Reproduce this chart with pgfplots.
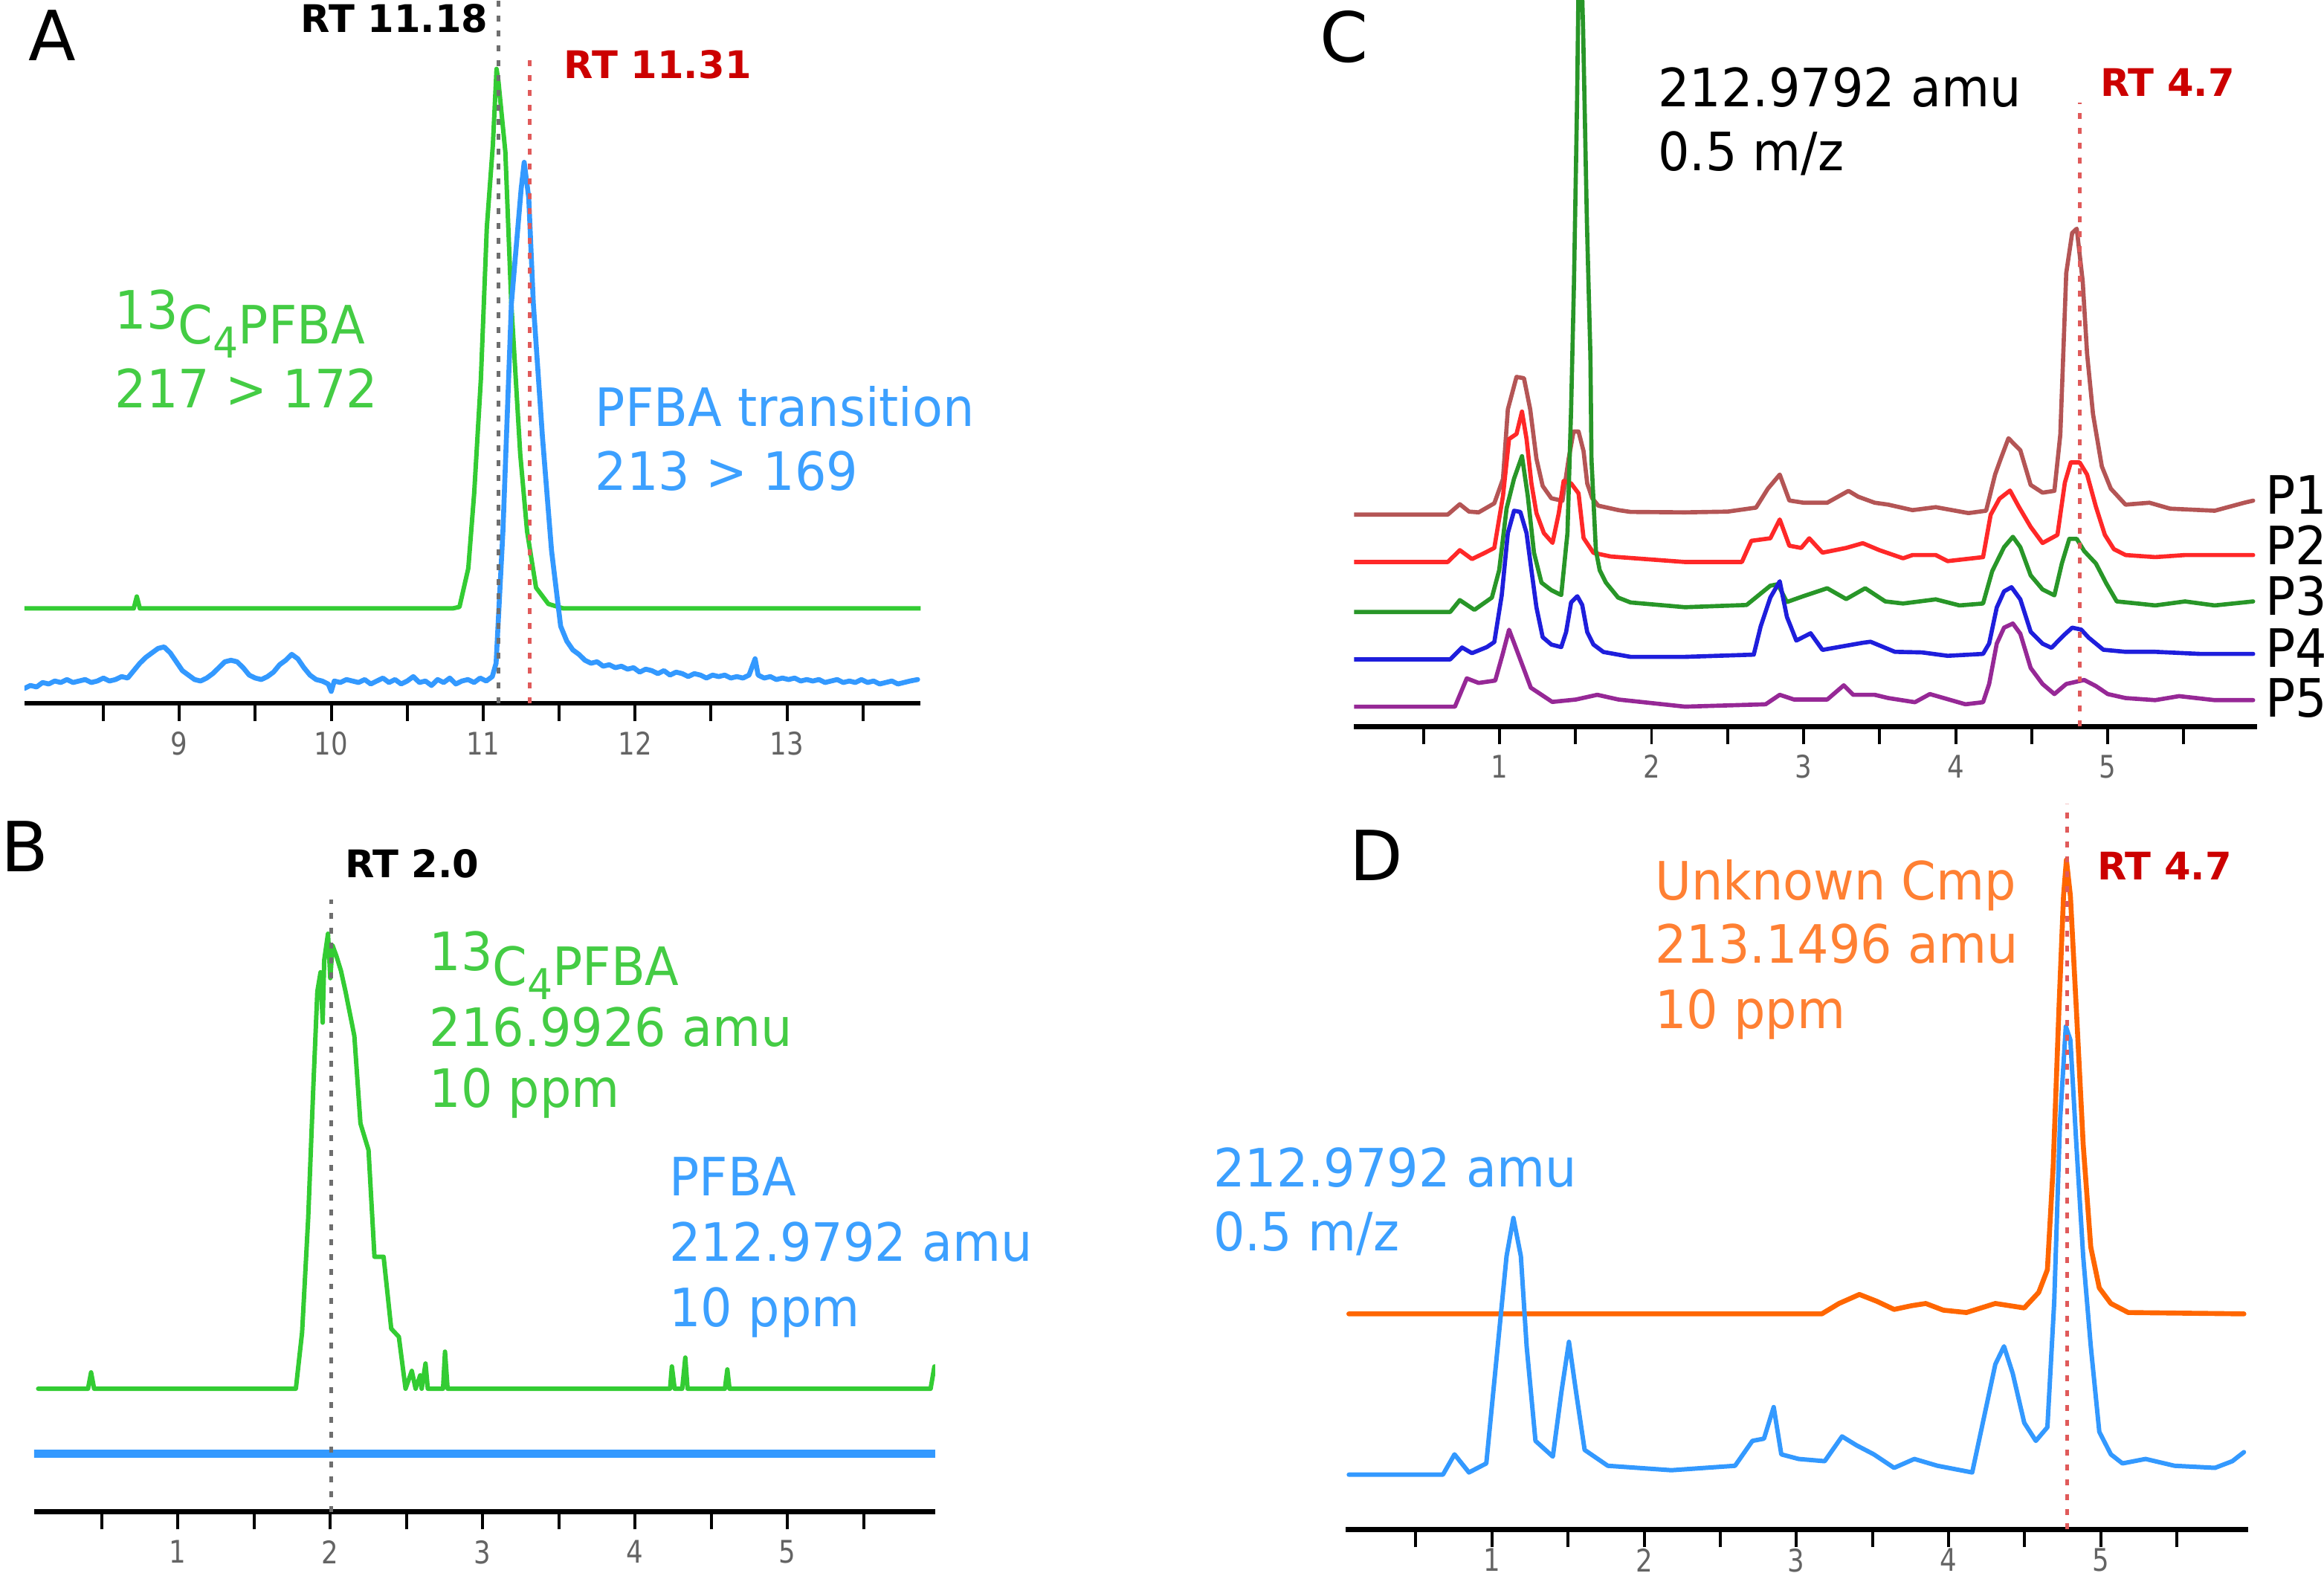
\documentclass[border=0pt]{standalone}
\usepackage{fontspec}
\setmainfont{DejaVu Sans}[FakeStretch=0.94]
\newfontfamily\plainfont{DejaVu Sans}
\newfontfamily\tickfontfam{DejaVu Sans}[FakeStretch=0.85]
\usepackage{pgfplots}
\pgfplotsset{compat=1.18}

\definecolor{agreen}{RGB}{51,204,51}
\definecolor{ablue}{RGB}{51,153,255}
\definecolor{tgreen}{RGB}{68,204,68}
\definecolor{tblue}{RGB}{60,160,255}
\definecolor{dorange}{RGB}{255,102,0}
\definecolor{torange}{RGB}{255,128,51}
\definecolor{rtred}{RGB}{204,0,0}
\definecolor{dotred}{RGB}{224,90,90}
\definecolor{dotgray}{RGB}{110,110,110}
\definecolor{cPa}{RGB}{180,85,85}
\definecolor{cPb}{RGB}{255,40,40}
\definecolor{cPc}{RGB}{40,150,40}
\definecolor{cPd}{RGB}{30,30,220}
\definecolor{cPe}{RGB}{150,40,150}
\definecolor{tickgray}{RGB}{100,100,100}

\newcommand{\annot}{\fontsize{10.7}{12}\selectfont}
\newcommand{\rtf}{\plainfont\bfseries\fontsize{7.7}{9}\selectfont}
\newcommand{\letf}{\plainfont\fontsize{14}{16}\selectfont}
\newcommand{\tickf}{\tickfontfam\fontsize{6.3}{7}\selectfont}
\newcommand{\isoC}{\raisebox{3pt}{13}C\raisebox{-2.9pt}{\fontsize{8.6}{9}\selectfont 4}PFBA}

\pgfplotsset{
 chrom/.style={
  scale only axis, enlargelimits=false,
  axis x line*=bottom, axis y line=none,
  y=0.3pt, ymin=0,
  xtick align=outside,
  major tick length=3.6pt, minor tick length=3.6pt,
  every major tick/.append style={black, line width=0.6pt},
  every minor tick/.append style={black, line width=0.6pt},
  x axis line style={black, line width=1pt, -},
  xticklabel style={font=\tickf, text=tickgray, inner sep=0pt, anchor=north, yshift=-2pt},
  every axis plot/.append style={no markers, line join=round, line cap=round},
 },
 ticksB/.style={xtick={1,2,3,4,5}, xticklabels={1,2,3,4,5}, minor xtick={0.5,1.5,2.5,3.5,4.5,5.5}},
}
\tikzset{dotg/.style={dotgray, line width=0.7pt, dash pattern=on 1.2pt off 1.8pt},
         dotr/.style={dotred, line width=0.7pt, dash pattern=on 1.2pt off 1.8pt}}

\begin{document}
\begin{tikzpicture}
\useasboundingbox (0,0) rectangle (470.4pt,-318.9pt);

% ---------------- Panel A ----------------
\begin{axis}[chrom, at={(4.935pt,-142.35pt)}, anchor=south west,
  x=30.75pt, xmin=7.98, xmax=13.88, ymax=474.5,
  xtick={9,10,11,12,13}, xticklabels={9,10,11,12,13},
  minor xtick={8.5,9.5,10.5,11.5,12.5,13.5}]
\addplot[agreen, line width=0.9pt] coordinates {
(7.98,64) (8.70,64) (8.72,72) (8.74,64) (10.80,64) (10.844,65) (10.902,91) (10.941,142)
(10.985,219) (11.024,321) (11.064,377) (11.088,428) (11.10,420) (11.146,372) (11.185,270)
(11.244,168) (11.289,116) (11.348,78) (11.429,67) (11.527,64) (13.88,64)};
\addplot[ablue, line width=1.0pt] coordinates {
(7.98,10) (8.02,12) (8.06,11) (8.10,14) (8.14,13) (8.18,15) (8.22,14) (8.26,16) (8.30,14)
(8.34,15) (8.38,16) (8.42,14) (8.46,15) (8.50,17) (8.54,15) (8.58,16) (8.62,18) (8.66,17)
(8.70,22) (8.74,27) (8.78,31) (8.82,34) (8.86,37) (8.90,38) (8.94,34) (8.98,28) (9.02,22)
(9.06,19) (9.10,16) (9.14,15) (9.18,17) (9.22,20) (9.26,24) (9.30,28) (9.34,29) (9.38,28)
(9.42,24) (9.46,19) (9.50,17) (9.54,16) (9.58,18) (9.62,21) (9.66,26) (9.70,29) (9.74,33)
(9.78,30) (9.82,24) (9.86,19) (9.90,16) (9.94,15) (9.98,13) (10.00,8) (10.02,15) (10.06,14)
(10.10,16) (10.14,15) (10.18,14) (10.22,16) (10.26,13) (10.30,15) (10.34,17) (10.38,14)
(10.42,16) (10.46,13) (10.50,15) (10.54,18) (10.58,14) (10.62,15) (10.66,12) (10.70,16)
(10.74,14) (10.78,17) (10.82,13) (10.86,15) (10.90,16) (10.94,14) (10.98,17) (11.02,15)
(11.06,18) (11.085,27) (11.13,116) (11.186,270) (11.25,347) (11.27,365) (11.30,341)
(11.33,270) (11.39,180) (11.45,103) (11.51,52) (11.55,42) (11.59,36) (11.63,33) (11.67,29)
(11.71,27) (11.75,28) (11.79,25) (11.83,26) (11.87,24) (11.91,25) (11.95,23) (11.99,24)
(12.03,21) (12.07,23) (12.11,22) (12.15,20) (12.19,22) (12.23,19) (12.27,21) (12.31,20)
(12.35,18) (12.39,20) (12.43,19) (12.47,17) (12.51,19) (12.55,18) (12.59,19) (12.63,17)
(12.67,18) (12.71,17) (12.75,19) (12.79,30) (12.81,19) (12.85,17) (12.89,18) (12.93,16)
(12.97,17) (13.01,16) (13.05,17) (13.09,15) (13.13,16) (13.17,15) (13.21,16) (13.25,14)
(13.29,15) (13.33,16) (13.37,14) (13.41,15) (13.45,14) (13.49,16) (13.53,14) (13.57,15)
(13.61,13) (13.65,14) (13.69,15) (13.73,13) (13.77,14) (13.81,15) (13.86,16)};
\draw[dotg] (11.10,0) -- (11.10,474.5);
\draw[dotr] (11.305,0) -- (11.305,439);
\end{axis}

% ---------------- Panel B ----------------
\begin{axis}[chrom, ticksB, at={(6.9pt,-306pt)}, anchor=south west,
  x=30.84pt, xmin=0.056, xmax=5.97, ymax=480]
\addplot[agreen, line width=0.9pt] coordinates {
(0.083,83) (0.41,83) (0.43,94) (0.45,83) (1.774,83) (1.815,121) (1.855,198) (1.888,285)
(1.915,351) (1.936,364) (1.95,330) (1.96,372) (1.985,390) (2.0,360) (2.015,382) (2.04,375)
(2.07,365) (2.10,351) (2.158,321) (2.198,262) (2.251,244) (2.29,172) (2.35,172) (2.40,123.5)
(2.45,118) (2.494,83) (2.535,95) (2.56,83) (2.59,92) (2.60,83) (2.625,100) (2.64,83)
(2.74,83) (2.753,108) (2.77,83) (4.23,83) (4.242,98) (4.26,83) (4.31,83) (4.33,104)
(4.345,83) (4.59,83) (4.606,96) (4.62,83) (5.94,83) (5.965,98)};
\addplot[ablue, line width=1.7pt] coordinates {(0.05,39) (5.97,39)};
\draw[dotg] (2.005,0) -- (2.005,413);
\end{axis}

% ---------------- Panel C ----------------
\begin{axis}[chrom, ticksB, at={(274.08pt,-147.06pt)}, anchor=south west,
  x=30.78pt, xmin=0.044, xmax=5.98, ymax=490]
\addplot[cPa, line width=0.85pt] coordinates {
(0.037,143) (0.66,143) (0.739,150) (0.80,145) (0.863,144.5) (0.966,150.6) (1.023,167)
(1.055,214) (1.112,235.9) (1.161,235) (1.202,214) (1.243,180.7) (1.284,162.3) (1.341,154)
(1.414,152.3) (1.455,180.7) (1.487,199) (1.52,199) (1.553,185.7) (1.577,164) (1.61,154)
(1.65,149) (1.783,146) (1.862,144.8) (2.22,144.5) (2.5,145) (2.687,147.7) (2.765,160.5)
(2.843,170) (2.906,152.5) (3.0,151) (3.155,151) (3.295,159) (3.36,155) (3.467,151)
(3.557,149.7) (3.716,146) (3.869,148) (4.084,144) (4.2,145.6) (4.259,170) (4.293,179.7)
(4.347,194.5) (4.425,186.4) (4.493,163) (4.571,157.8) (4.649,159) (4.688,197) (4.727,306)
(4.766,333) (4.796,335.9) (4.835,300.6) (4.864,251.6) (4.903,210.8) (4.961,175.5)
(5.02,160.5) (5.117,149.7) (5.274,151) (5.41,147) (5.703,145.6) (5.898,151) (5.956,152.4)};
\addplot[cPb, line width=0.85pt] coordinates {
(0.037,111) (0.66,111) (0.739,119) (0.819,113) (0.9,117) (0.966,120.5) (1.023,155.6)
(1.063,194) (1.112,197.4) (1.148,212.5) (1.178,194) (1.21,164) (1.243,144) (1.292,130.5)
(1.349,123.9) (1.39,144) (1.422,165.7) (1.471,164) (1.52,157.3) (1.553,127.2) (1.618,117.2)
(1.732,114.7) (2.22,111) (2.594,111) (2.656,125.3) (2.781,127) (2.843,139.7) (2.906,122)
(2.984,120.5) (3.037,127) (3.124,117.3) (3.28,120.5) (3.389,123.7) (3.498,119) (3.654,113.5)
(3.716,115.7) (3.869,115.7) (3.947,111.6) (4.18,114.3) (4.23,142.9) (4.288,153.7)
(4.357,159.2) (4.415,148.3) (4.493,134.7) (4.571,123.8) (4.669,129.3) (4.718,164.6)
(4.757,178.2) (4.815,178.2) (4.864,170) (4.922,148.3) (4.981,129.3) (5.04,119.7)
(5.117,115.7) (5.312,114.3) (5.508,115.7) (5.956,115.7)};
\addplot[cPc, line width=0.85pt] coordinates {
(0.037,77.3) (0.676,77.3) (0.739,85.3) (0.835,78.7) (0.95,87) (0.998,105.5) (1.047,147.3)
(1.096,167.3) (1.148,182.4) (1.186,155.6) (1.227,117.2) (1.276,97.1) (1.341,92) (1.406,88.7)
(1.447,130.5) (1.471,214) (1.49,300) (1.51,420) (1.527,560) (1.55,470) (1.575,340)
(1.598,250) (1.605,180) (1.634,118.8) (1.659,105.5) (1.7,97.1) (1.78,87) (1.862,83.7)
(2.22,80.5) (2.625,82) (2.781,95) (2.83,96) (2.89,84) (3.0,88) (3.155,93.3) (3.28,86)
(3.405,93.3) (3.537,84.4) (3.654,83) (3.869,85.8) (4.025,81.7) (4.18,83) (4.24,104.8)
(4.318,121) (4.376,128) (4.425,121) (4.493,102) (4.571,92.5) (4.649,88.5) (4.698,110)
(4.747,126.6) (4.796,126.6) (4.845,118.4) (4.922,110) (4.99,96.6) (5.059,84.4) (5.195,83)
(5.312,81.7) (5.508,84.4) (5.703,81.7) (5.956,84.4)};
\addplot[cPd, line width=0.85pt] coordinates {
(0.037,45.3) (0.676,45.3) (0.754,53.3) (0.819,49.5) (0.917,53.6) (0.966,57) (1.015,88.7)
(1.055,130.5) (1.096,145.6) (1.137,144.8) (1.178,130.5) (1.21,105.5) (1.243,80.4)
(1.284,60.3) (1.341,55.3) (1.406,53.6) (1.438,63.7) (1.471,83.7) (1.512,87.9) (1.544,82)
(1.577,63.7) (1.618,55.3) (1.683,50.3) (1.862,47) (2.22,47) (2.672,48.5) (2.718,67.7)
(2.781,87) (2.843,98) (2.89,74) (2.952,58) (3.046,62.9) (3.124,51.7) (3.389,56.5)
(3.44,57.2) (3.6,50.4) (3.778,50) (3.947,47.7) (4.18,49) (4.22,56) (4.27,80.3) (4.318,91.2)
(4.367,94) (4.425,85.8) (4.493,64) (4.571,55.9) (4.63,53.1) (4.708,61.3) (4.766,66.7)
(4.825,65.4) (4.874,60) (4.971,51.8) (5.117,50.4) (5.312,50.4) (5.605,49) (5.956,49)};
\addplot[cPe, line width=0.85pt] coordinates {
(0.037,13.4) (0.707,13.4) (0.785,32.5) (0.863,29.4) (0.972,31) (1.02,48.5) (1.063,65.3)
(1.113,51.7) (1.206,26.2) (1.347,16.6) (1.502,18.2) (1.643,21.4) (1.783,18.2) (2.22,13.4)
(2.75,15) (2.843,21.4) (2.937,18.2) (3.155,18.2) (3.264,27.8) (3.326,21.4) (3.467,21.4)
(3.557,19.2) (3.732,16.4) (3.83,21.9) (4.064,15) (4.18,16.4) (4.22,28.7) (4.27,55.9)
(4.318,66.7) (4.376,69.5) (4.425,62.6) (4.493,39.5) (4.571,28.7) (4.649,21.9) (4.727,28.7)
(4.845,31.4) (4.922,27.3) (5.0,21.9) (5.117,19.2) (5.312,17.8) (5.469,20.5) (5.703,17.8)
(5.956,17.8)};
\draw[dotr] (4.815,0) -- (4.815,421);
\end{axis}

% ---------------- Panel D ----------------
\begin{axis}[chrom, ticksB, at={(272.4pt,-309.6pt)}, anchor=south west,
  x=30.81pt, xmin=0.04, xmax=5.97, ymax=490,
  xticklabel style={yshift=1.9pt}]
\addplot[dorange, line width=1.0pt] coordinates {
(0.06,145.5) (3.167,145.5) (3.28,152.5) (3.414,158.6) (3.528,154) (3.642,148.5) (3.756,151)
(3.85,152.5) (3.965,148) (4.117,146.4) (4.307,152.5) (4.497,149.5) (4.592,160) (4.649,175.3)
(4.687,245) (4.725,351.5) (4.755,427.5) (4.774,451.8) (4.8,427.5) (4.839,351.5) (4.884,260)
(4.934,190.5) (4.99,163) (5.066,152.5) (5.18,146.4) (5.94,145.5)};
\addplot[ablue, line width=0.9pt] coordinates {
(0.06,37) (0.678,37) (0.754,50.7) (0.849,38.5) (0.963,44.6) (1.038,123.6) (1.096,184.4)
(1.141,210.2) (1.19,184.4) (1.228,123.6) (1.286,59.8) (1.4,49.2) (1.457,93.2) (1.506,126.6)
(1.552,93.2) (1.609,53.7) (1.761,43) (2.179,40) (2.597,43) (2.711,59.8) (2.787,61.3)
(2.851,82.6) (2.901,50.7) (3.015,47.6) (3.186,46.1) (3.3,62.8) (3.395,56.8) (3.509,50.7)
(3.642,41.6) (3.775,47.6) (3.927,43) (4.155,38.5) (4.231,75) (4.307,111.5) (4.364,123.6)
(4.421,105.4) (4.497,72) (4.573,59.8) (4.649,69) (4.694,154) (4.732,275.6) (4.77,339.4)
(4.8,330.3) (4.839,260.4) (4.884,184.4) (4.934,123.6) (4.99,65.9) (5.066,50.7) (5.142,44.6)
(5.294,47.6) (5.484,43) (5.75,41.6) (5.864,46.1) (5.94,52.2)};
\draw[dotr] (4.78,0) -- (4.78,490);
\end{axis}

% ---------------- Annotations (pixel grid) ----------------
\begin{scope}[x=0.3pt,y=-0.3pt, every node/.style={inner sep=0pt, anchor=base west}]
% A
\node[font=\letf] at (18.8,41) {A};
\node[font=\rtf, anchor=base east] at (330,21.7) {RT 11.18};
\node[font=\rtf, text=rtred] at (380,52.7) {RT 11.31};
\node[font=\annot, text=tgreen] at (77,232) {\isoC};
\node[font=\annot, text=tgreen] at (77,275) {217 > 172};
\node[font=\annot, text=tblue] at (401,287.7) {PFBA transition};
\node[font=\annot, text=tblue] at (401,331) {213 > 169};
% B
\node[font=\letf] at (0,588) {B};
\node[font=\rtf, anchor=base] at (278,592) {RT 2.0};
\node[font=\annot, text=tgreen] at (289,664.7) {\isoC};
\node[font=\annot, text=tgreen] at (289,706) {216.9926 amu};
\node[font=\annot, text=tgreen] at (289,747) {10 ppm};
\node[font=\annot, text=tblue] at (451,807) {PFBA};
\node[font=\annot, text=tblue] at (451,851) {212.9792 amu};
\node[font=\annot, text=tblue] at (451,895) {10 ppm};
% C
\node[font=\letf] at (890,41.8) {C};
\node[font=\annot] at (1118,72) {212.9792 amu};
\node[font=\annot] at (1118,115) {0.5 m/z};
\node[font=\rtf, text=rtred] at (1416.5,65) {RT 4.7};
\node[font=\annot] at (1528,347) {P1};
\node[font=\annot] at (1528,381) {P2};
\node[font=\annot] at (1528,415) {P3};
\node[font=\annot] at (1528,450) {P4};
\node[font=\annot] at (1528,484) {P5};
% D
\node[font=\letf] at (910,594) {D};
\node[font=\annot, text=torange] at (1116,607) {Unknown Cmp};
\node[font=\annot, text=torange] at (1116,650) {213.1496 amu};
\node[font=\annot, text=torange] at (1116,694) {10 ppm};
\node[font=\rtf, text=rtred] at (1414.5,593.4) {RT 4.7};
\node[font=\annot, text=tblue] at (818,801) {212.9792 amu};
\node[font=\annot, text=tblue] at (818,844) {0.5 m/z};
\end{scope}
\end{tikzpicture}
\end{document}
